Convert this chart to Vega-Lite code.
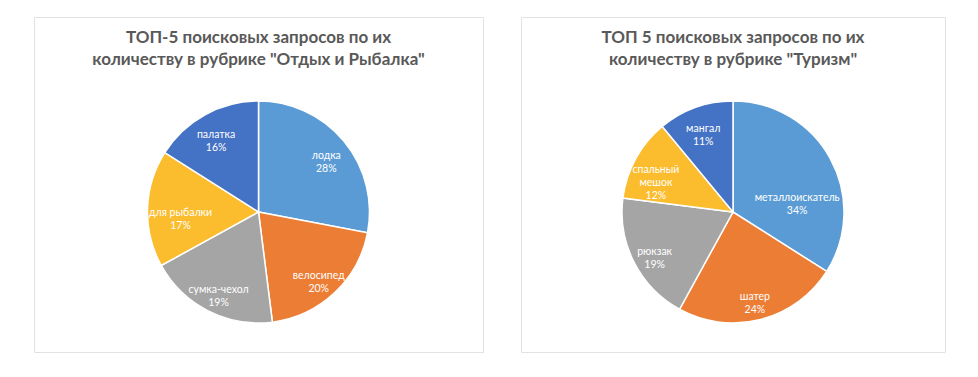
{
  "$schema": "https://vega.github.io/schema/vega-lite/v6.json",
  "padding": {"left": 33, "top": 16, "right": 0, "bottom": 0},
  "background": "white",
  "spacing": 36,
  "config": {
    "view": {"stroke": "#e2e2e2", "strokeWidth": 1},
    "title": {"font": "Lato", "fontSize": 17, "fontWeight": "bold", "color": "#595959", "lineHeight": 22, "anchor": "middle", "offset": -52}
  },
  "datasets": {
    "fishing": [
      {"name": "лодка", "value": 28, "label": "лодка\n28%", "i": 1},
      {"name": "велосипед", "value": 20, "label": "велосипед\n20%", "i": 2},
      {"name": "сумка-чехол", "value": 19, "label": "сумка-чехол\n19%", "i": 3},
      {"name": "для рыбалки", "value": 17, "label": "для рыбалки\n17%", "i": 4},
      {"name": "палатка", "value": 16, "label": "палатка\n16%", "i": 5}
    ],
    "tourism": [
      {"name": "металлоискатель", "value": 34, "label": "металлоискатель\n34%", "i": 1},
      {"name": "шатер", "value": 24, "label": "шатер\n24%", "i": 2},
      {"name": "рюкзак", "value": 19, "label": "рюкзак\n19%", "i": 3},
      {"name": "спальный мешок", "value": 12, "label": "спальный\nмешок\n12%", "i": 4},
      {"name": "мангал", "value": 11, "label": "мангал\n11%", "i": 5}
    ]
  },
  "hconcat": [
    {
      "width": 449,
      "height": 335,
      "view": {"stroke": "#e2e2e2", "strokeWidth": 1},
      "title": {"text": ["ТОП-5 поисковых запросов по их", "количеству в рубрике \"Отдых и Рыбалка\""]},
      "data": {"name": "fishing"},
      "encoding": {
        "theta": {"field": "value", "type": "quantitative", "stack": true},
        "order": {"field": "i", "type": "ordinal"}
      },
      "layer": [
        {
          "mark": {"type": "arc", "radius": 111, "yOffset": 27.5, "stroke": "white", "strokeWidth": 1.5},
          "encoding": {
            "color": {"field": "i", "type": "ordinal", "legend": null,
              "scale": {"domain": [1, 2, 3, 4, 5], "range": ["#5B9BD5", "#EC7D35", "#A5A5A5", "#FBBC2E", "#4472C4"]}}
          }
        },
        {
          "mark": {"type": "text", "radius": 88, "yOffset": 27.5, "font": "Lato", "fontSize": 10.5, "color": "white", "lineBreak": "\n", "lineHeight": 13, "align": "center", "baseline": "middle"},
          "encoding": {
            "detail": {"field": "i", "type": "ordinal"},
            "text": {"condition": {"test": "datum.i === 4", "value": ""}, "field": "label", "type": "nominal"}
          }
        },
        {
          "mark": {"type": "text", "radius": 88, "yOffset": 27.5, "dx": 10, "dy": 4, "font": "Lato", "fontSize": 10.5, "color": "white", "lineBreak": "\n", "lineHeight": 13, "align": "center", "baseline": "middle"},
          "encoding": {
            "detail": {"field": "i", "type": "ordinal"},
            "text": {"condition": {"test": "datum.i !== 4", "value": ""}, "field": "label", "type": "nominal"}
          }
        }
      ]
    },
    {
      "width": 424,
      "height": 335,
      "view": {"stroke": "#e2e2e2", "strokeWidth": 1},
      "title": {"text": ["ТОП 5 поисковых запросов по их", "количеству в рубрике \"Туризм\""]},
      "data": {"name": "tourism"},
      "encoding": {
        "theta": {"field": "value", "type": "quantitative", "stack": true},
        "order": {"field": "i", "type": "ordinal"}
      },
      "layer": [
        {
          "mark": {"type": "arc", "radius": 111, "yOffset": 27.5, "stroke": "white", "strokeWidth": 1.5},
          "encoding": {
            "color": {"field": "i", "type": "ordinal", "legend": null,
              "scale": {"domain": [1, 2, 3, 4, 5], "range": ["#5B9BD5", "#EC7D35", "#A5A5A5", "#FBBC2E", "#4472C4"]}}
          }
        },
        {
          "mark": {"type": "text", "radius": 88, "yOffset": 27.5, "font": "Lato", "fontSize": 10.5, "color": "white", "lineBreak": "\n", "lineHeight": 13, "align": "center", "baseline": "middle"},
          "encoding": {
            "detail": {"field": "i", "type": "ordinal"},
            "text": {"condition": {"test": "datum.i === 1", "value": ""}, "field": "label", "type": "nominal"}
          }
        },
        {
          "mark": {"type": "text", "radius": 88, "yOffset": 27.5, "dx": -13, "dy": 28, "font": "Lato", "fontSize": 10.5, "color": "white", "lineBreak": "\n", "lineHeight": 13, "align": "center", "baseline": "middle"},
          "encoding": {
            "detail": {"field": "i", "type": "ordinal"},
            "text": {"condition": {"test": "datum.i !== 1", "value": ""}, "field": "label", "type": "nominal"}
          }
        }
      ]
    }
  ]
}
